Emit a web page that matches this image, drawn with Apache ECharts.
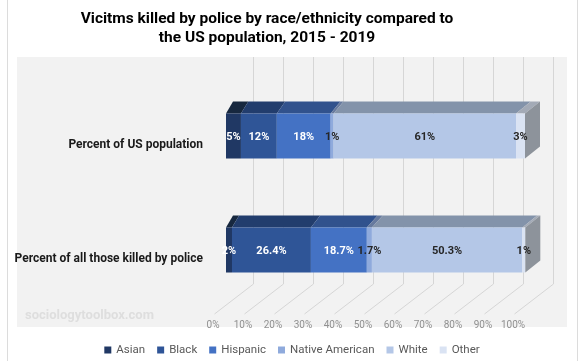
<!DOCTYPE html>
<html><head><meta charset="utf-8">
<script src="https://cdn.jsdelivr.net/npm/echarts@6.0.0/dist/echarts.min.js"></script>
<style>html,body{margin:0;padding:0;background:#fff}#c{width:584px;height:361px}</style>
</head><body><div id="c"></div>
<script>
// ---- data ----
const categories = ['Percent of US population', 'Percent of all those killed by police'];
const races = ['Asian', 'Black', 'Hispanic', 'Native American', 'White', 'Other'];
const asian = [5, 2];
const black = [12, 26.4];
const hispanic = [18, 18.7];
const nativeAmerican = [1, 1.7];
const white = [61, 50.3];
const other = [3, 1];
const tickValues = [0, 10, 20, 30, 40, 50, 60, 70, 80, 90, 100];
const titleText = 'Vicitms killed by police by race/ethnicity compared to\nthe US population, 2015 - 2019';
const watermark = 'sociologytoolbox.com';

// ---- styles ----
const frontColors = ['#203864', '#2f5597', '#4472c4', '#8faadc', '#b4c7e7', '#dae3f3'];
const topColors = ['#17283f', '#223d6d', '#31528d', '#677a9e', '#8393aa', '#a3aab6'];
const sideColor = '#8d939b';
const labelColors = ['#ffffff', '#ffffff', '#ffffff', '#262626', '#262626', '#262626'];

const seriesValues = [asian, black, hispanic, nativeAmerican, white, other];
const cum = categories.map(() => 0);
const stacked = seriesValues.map(vals => vals.map((v, ci) => {
  const s = cum[ci]; cum[ci] += v; return [s, s + v, ci, v];
}));

function makeRender(si) {
  const isLast = si === races.length - 1;
  return function (params, api) {
    const start = api.value(0), end = api.value(1), cat = api.value(2), val = api.value(3);
    const p0 = api.coord([start, cat]);
    const p1 = api.coord([end, cat]);
    const zero = api.coord([0, cat])[0], full = api.coord([100, cat])[0];
    const h = api.size([0, 1])[1] * 0.395;
    const yTop = p0[1] - h / 2;
    const dy = 12;
    const dx = x => 7 + 8 * (x - zero) / (full - zero);
    const children = [
      { type: 'polygon', shape: { points: [[p0[0], yTop], [p1[0], yTop], [p1[0] + dx(p1[0]), yTop - dy], [p0[0] + dx(p0[0]), yTop - dy]] }, style: { fill: topColors[si] } },
      { type: 'rect', shape: { x: p0[0], y: yTop, width: p1[0] - p0[0], height: h }, style: { fill: frontColors[si] } }
    ];
    if (isLast) {
      const d = dx(p1[0]);
      children.push({ type: 'polygon', shape: { points: [[p1[0], yTop], [p1[0] + d, yTop - dy], [p1[0] + d, yTop - dy + h], [p1[0], yTop + h]] }, style: { fill: sideColor } });
    }
    children.push({ type: 'text', z2: 100, x: (p0[0] + p1[0]) / 2, y: p0[1] + 1,
      style: { text: val + '%', fill: labelColors[si], font: 'bold 11px Roboto', align: 'center', verticalAlign: 'middle' } });
    return { type: 'group', children };
  };
}

const chart = echarts.init(document.getElementById('c'), null, { renderer: 'canvas' });
const series = races.map((name, si) => ({
  name, type: 'custom', xAxisIndex: 0, yAxisIndex: 0, z: 3,
  itemStyle: { color: frontColors[si] },
  data: stacked[si], renderItem: makeRender(si), encode: { x: [0, 1], y: 2 }
}));
series.unshift({
  type: 'custom', xAxisIndex: 1, yAxisIndex: 1, silent: true, z: 1,
  data: tickValues.map(v => [v]),
  renderItem: function (params, api) {
    const x = Math.round(api.coord([api.value(0), 0])[0]) + 0.5;
    const cs = params.coordSys;
    const top = cs.y, bottom = cs.y + cs.height;
    return { type: 'group', children: [
      { type: 'line', shape: { x1: x + 40, y1: top, x2: x + 40, y2: bottom - 30 }, style: { stroke: '#d6d6d6', lineWidth: 1 } },
      { type: 'line', shape: { x1: x + 40, y1: bottom - 30, x2: x + 1, y2: bottom }, style: { stroke: '#d6d6d6', lineWidth: 1 } }
    ] };
  }
});

chart.setOption({
  animation: false,
  color: frontColors,
  title: {
    text: titleText, left: 262, top: 5, textAlign: 'center',
    textStyle: { fontFamily: 'Roboto', fontWeight: 'bold', fontSize: 15.5, lineHeight: 19, color: '#000' }
  },
  legend: {
    data: races, top: 339, left: 'center', icon: 'rect', itemWidth: 7, itemHeight: 7, itemGap: 12,
    textStyle: { fontFamily: 'Roboto', fontSize: 11.5, color: '#595959' }
  },
  graphic: [
    { type: 'rect', z: -10, shape: { x: 17, y: 57, width: 550, height: 270 }, style: { fill: '#f2f2f2' } },
    { type: 'line', z: -10, shape: { x1: 7.5, y1: 0, x2: 7.5, y2: 361 }, style: { stroke: '#dcdcdc' } },
    { type: 'line', z: -10, shape: { x1: 577.5, y1: 0, x2: 577.5, y2: 361 }, style: { stroke: '#dcdcdc' } },
    { type: 'text', z: -5, x: 25, y: 316, style: { text: watermark, fill: '#dedede', font: 'bold 13px Roboto', verticalAlign: 'middle' } }
  ],
  grid: [
    { left: 226, right: 59, top: 79, bottom: 54 },
    { left: 213, right: 71, top: 57, bottom: 47 }
  ],
  xAxis: [
    { gridIndex: 0, type: 'value', min: 0, max: 100, show: false },
    { gridIndex: 1, type: 'value', min: 0, max: 100, interval: 10,
      axisLine: { show: false }, axisTick: { show: false }, splitLine: { show: false },
      axisLabel: { formatter: '{value}%', margin: 6, fontSize: 10, color: '#909090', fontFamily: 'Roboto' } }
  ],
  yAxis: [
    { gridIndex: 0, type: 'category', data: categories, inverse: true,
      axisLine: { show: false }, axisTick: { show: false }, splitLine: { show: false },
      axisLabel: { margin: 23, fontSize: 12, fontWeight: 'bold', color: '#1a1a1a', fontFamily: 'Roboto',
        lineHeight: 18, formatter: v => '\n' + v } },
    { gridIndex: 1, type: 'value', min: 0, max: 1, show: false }
  ],
  series
});
</script>
</body></html>
